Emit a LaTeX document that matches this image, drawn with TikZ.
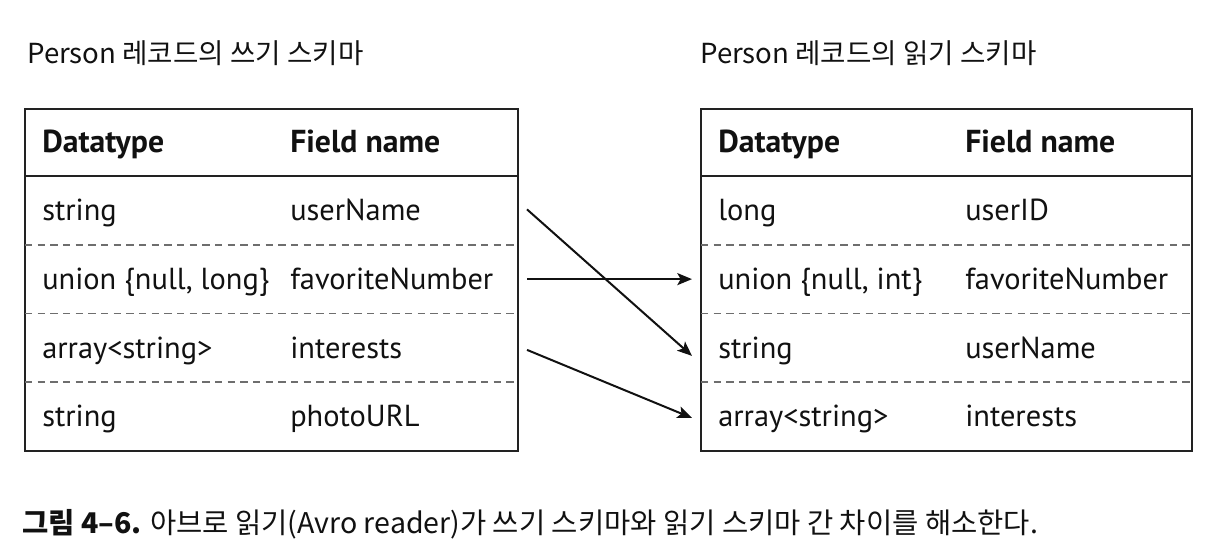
\documentclass[tikz,border=0pt]{standalone}
\usepackage{fontspec}
\setmainfont{PT Sans}
\newfontfamily\kr{Noto Sans CJK KR}
\usetikzlibrary{arrows.meta}
\definecolor{ink}{HTML}{111111}
\definecolor{framec}{HTML}{222222}
\definecolor{dashc}{HTML}{6E6E6E}
\begin{document}
\begin{tikzpicture}[x=0.75pt,y=-0.75pt,
  rowboxL/.style={inner sep=0pt, outer sep=0pt, minimum width=369.75pt, minimum height=51.5625pt},
  rowboxR/.style={inner sep=0pt, outer sep=0pt, minimum width=368.25pt, minimum height=51.5625pt},
  headL/.style={rowboxL, minimum height=50.25pt},
  headR/.style={rowboxR, minimum height=50.25pt},
  cell/.style={anchor=base west, inner sep=0pt, text=ink, font=\fontsize{22.8pt}{26pt}\selectfont},
  hcell/.style={cell, font=\fontsize{23.8pt}{27pt}\selectfont\bfseries},
  frame/.style={draw=framec, line width=2.2pt},
  sep/.style={draw=dashc, line width=1.2pt, dash pattern=on 5.5pt off 4pt},
  title/.style={anchor=base west, inner sep=0pt, text=ink, font=\kr\fontsize{20.7pt}{24pt}\selectfont},
  conn/.style={draw=ink, line width=1.5pt, -{Stealth[length=11pt, width=9pt, inset=2.5pt]}}
]
\useasboundingbox (0,0) rectangle (1214,558);

% titles
\node[title] (tl) at (27,63) {Person 레코드의 쓰기 스키마};
\node[title] (tr) at (700,63) {Person 레코드의 읽기 스키마};

% left table rows
\node[headL] (LH) at (271.5,142.5) {};
\node[rowboxL] (L1) at (271.5,210.375) {};
\node[rowboxL] (L2) at (271.5,279.125) {};
\node[rowboxL] (L3) at (271.5,347.875) {};
\node[rowboxL] (L4) at (271.5,416.625) {};
% right table rows
\node[headR] (RH) at (946.5,142.5) {};
\node[rowboxR] (R1) at (946.5,210.375) {};
\node[rowboxR] (R2) at (946.5,279.125) {};
\node[rowboxR] (R3) at (946.5,347.875) {};
\node[rowboxR] (R4) at (946.5,416.625) {};

% frames
\draw[frame] (LH.north west) rectangle (L4.south east);
\draw[frame] (LH.south west) -- (LH.south east);
\draw[sep] (L1.south west) -- (L1.south east);
\draw[sep] (L2.south west) -- (L2.south east);
\draw[sep] (L3.south west) -- (L3.south east);
\draw[frame] (RH.north west) rectangle (R4.south east);
\draw[frame] (RH.south west) -- (RH.south east);
\draw[sep] (R1.south west) -- (R1.south east);
\draw[sep] (R2.south west) -- (R2.south east);
\draw[sep] (R3.south west) -- (R3.south east);

% left texts
\node[hcell] (lh1) at (42,152.5) {Datatype};
\node[hcell] (lh2) at (290,152.5) {Field name};
\node[cell] (l11) at (42,220.5) {string};
\node[cell] (l12) at (290,220.5) {userName};
\node[cell] (l21) at (42,289.3) {union \{null, long\}};
\node[cell] (l22) at (290,289.3) {favoriteNumber};
\node[cell] (l31) at (42,358) {array<string>};
\node[cell] (l32) at (290,358) {interests};
\node[cell] (l41) at (42,426.8) {string};
\node[cell] (l42) at (290,426.8) {photoURL};

% right texts
\node[hcell] (rh1) at (718,152.5) {Datatype};
\node[hcell] (rh2) at (965,152.5) {Field name};
\node[cell] (r11) at (718,220.5) {long};
\node[cell] (r12) at (965,220.5) {userID};
\node[cell] (r21) at (718,289.3) {union \{null, int\}};
\node[cell] (r22) at (965,289.3) {favoriteNumber};
\node[cell] (r31) at (718,358) {string};
\node[cell] (r32) at (965,358) {userName};
\node[cell] (r41) at (718,426.8) {array<string>};
\node[cell] (r42) at (965,426.8) {interests};

% connectors
\draw[conn] ([xshift=6.75pt, yshift=0.75pt]L1.east) -- ([xshift=-6.75pt, yshift=-6pt]R3.west);
\draw[conn] ([xshift=6.75pt]L2.east) -- ([xshift=-6.75pt]R2.west);
\draw[conn] ([xshift=6.75pt, yshift=-1.5pt]L3.east) -- ([xshift=-6.75pt, yshift=-1pt]R4.west);

% caption
\node[title, font=\kr\fontsize{21.4pt}{25pt}\selectfont] (cap) at (22,533) {\textbf{그림 4–6.} 아브로 읽기(Avro reader)가 쓰기 스키마와 읽기 스키마 간 차이를 해소한다.};
\end{tikzpicture}
\end{document}
